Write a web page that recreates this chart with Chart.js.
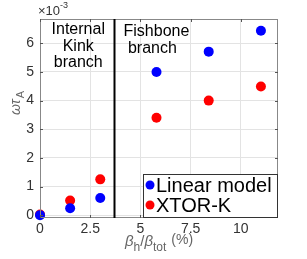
<!DOCTYPE html>
<html>
<head>
<meta charset="utf-8">
<script src="https://cdn.jsdelivr.net/npm/chart.js@4.4.0/dist/chart.umd.min.js"></script>
<style>
  html, body { margin: 0; padding: 0; background: #fff; }
  #wrap { width: 307px; height: 259px; }
</style>
</head>
<body>
<div id="wrap"><canvas id="chart" width="307" height="259"></canvas></div>
<script>
// growth rate (x1e-3) vs beta_h / beta_tot (%)
var betaRatio = [0, 1.5, 3, 5.8, 8.4, 11];
var linearModel = [0, 0.24, 0.6, 5.0, 5.71, 6.44];
var xtorK = [0.02, 0.51, 1.25, 3.4, 4.0, 4.49];
var xTicks = [0, 2.5, 5, 7.5, 10];
var yTicks = [0, 1, 2, 3, 4, 5, 6];
var branchLimit = 3.7;

var FONT = '"Liberation Sans", Arial, sans-serif';

function pts(ys) {
    return betaRatio.map(function (x, i) { return { x: x, y: ys[i] }; });
}

// lignes et textes ajoutés à la main
var extras = {
    id: 'extras',
    afterDraw: function (chart) {
        var ctx = chart.ctx, a = chart.chartArea;
        var xs = chart.scales.x, ys = chart.scales.y;
        ctx.save();

        // cadre
        ctx.strokeStyle = '#888';
        ctx.lineWidth = 1;
        ctx.strokeRect(a.left + 0.5, a.top + 0.5, a.right - a.left - 1, a.bottom - a.top - 1);

        // petites graduations vers l'intérieur
        ctx.strokeStyle = '#555';
        yTicks.forEach(function (v) {
            var py = Math.round(ys.getPixelForValue(v)) + 0.5;
            ctx.beginPath();
            ctx.moveTo(a.left, py); ctx.lineTo(a.left + 3, py);
            ctx.moveTo(a.right, py); ctx.lineTo(a.right - 3, py);
            ctx.stroke();
        });
        xTicks.forEach(function (v) {
            var px = Math.round(xs.getPixelForValue(v)) + 0.5;
            ctx.beginPath();
            ctx.moveTo(px, a.bottom); ctx.lineTo(px, a.bottom - 3);
            ctx.moveTo(px, a.top); ctx.lineTo(px, a.top + 3);
            ctx.stroke();
        });

        // séparation des deux branches
        var bx = Math.round(xs.getPixelForValue(branchLimit)) + 0.5;
        ctx.strokeStyle = '#000';
        ctx.lineWidth = 2;
        ctx.beginPath();
        ctx.moveTo(bx, a.top); ctx.lineTo(bx, a.bottom);
        ctx.stroke();

        ctx.fillStyle = '#000';
        ctx.font = '16px ' + FONT;
        ctx.textAlign = 'center';
        ctx.textBaseline = 'middle';
        var cx = (a.left + bx) / 2;
        ['Internal', 'Kink', 'branch'].forEach(function (t, i) {
            ctx.fillText(t, cx + 1, 30 + i * 16.5);
        });
        ctx.textAlign = 'left';
        ['Fishbone', ' branch'].forEach(function (t, i) {
            ctx.fillText(t, bx + 9, 32 + i * 17);
        });

        // facteur d'échelle
        ctx.fillStyle = '#333';
        ctx.font = '13px ' + FONT;
        ctx.textBaseline = 'alphabetic';
        ctx.fillText('\u00d710', a.left - 2, 15);
        ctx.font = '9px ' + FONT;
        ctx.fillText('-3', a.left + 20, 8);

        // titre axe y
        ctx.fillStyle = '#666';
        ctx.save();
        ctx.translate(20, 115);
        ctx.rotate(-Math.PI / 2);
        ctx.font = 'italic 14px ' + FONT;
        ctx.textAlign = 'left';
        ctx.fillText('\u03c9\u03c4', 0, 0);
        var w = ctx.measureText('\u03c9\u03c4').width;
        ctx.font = '11px ' + FONT;
        ctx.fillText('A', w + 1, 4);
        ctx.restore();

        // titre axe x
        var tx = 125, ty = 246;
        ctx.textAlign = 'left';
        ctx.font = 'italic 15px ' + FONT;
        ctx.fillText('\u03b2', tx, ty);
        tx += ctx.measureText('\u03b2').width;
        ctx.font = '12px ' + FONT;
        ctx.fillText('h', tx, ty + 5);
        tx += ctx.measureText('h').width;
        ctx.font = '15px ' + FONT;
        ctx.fillText('/', tx, ty);
        tx += ctx.measureText('/').width;
        ctx.font = 'italic 15px ' + FONT;
        ctx.fillText('\u03b2', tx, ty);
        tx += ctx.measureText('\u03b2').width;
        ctx.font = '12px ' + FONT;
        ctx.fillText('tot', tx, ty + 5);
        tx += ctx.measureText('tot').width + 5;
        ctx.font = '14px ' + FONT;
        ctx.fillText('(%)', tx, ty - 2);

        // légende
        var lx = 143, ly = 174, lw = a.right - lx, lh = a.bottom - ly;
        ctx.fillStyle = '#fff';
        ctx.fillRect(lx, ly, lw, lh);
        ctx.strokeStyle = '#333';
        ctx.lineWidth = 1;
        ctx.strokeRect(lx + 0.5, ly + 0.5, lw - 1, lh - 1);
        ctx.font = '20px ' + FONT;
        ctx.textBaseline = 'middle';
        chart.data.datasets.forEach(function (ds, i) {
            var yy = ly + 11 + i * 20;
            ctx.fillStyle = ds.backgroundColor;
            ctx.beginPath();
            ctx.arc(lx + 7, yy, 4.5, 0, Math.PI * 2);
            ctx.fill();
            ctx.fillStyle = '#000';
            ctx.fillText(ds.label, lx + 13, yy + 1);
        });
        ctx.restore();
    }
};

new Chart(document.getElementById('chart'), {
    type: 'scatter',
    data: {
        datasets: [
            { label: 'Linear model', data: pts(linearModel), backgroundColor: '#0000ff', borderWidth: 0, pointRadius: 5, clip: false },
            { label: 'XTOR-K', data: pts(xtorK), backgroundColor: '#ff0000', borderWidth: 0, pointRadius: 5, clip: false }
        ]
    },
    options: {
        responsive: false,
        animation: false,
        layout: { padding: { top: 19, right: 29, left: 0, bottom: 0 } },
        plugins: { legend: { display: false }, tooltip: { enabled: false } },
        scales: {
            x: {
                type: 'linear',
                min: 0,
                max: 11.85,
                afterBuildTicks: function (s) { s.ticks = xTicks.map(function (v) { return { value: v }; }); },
                afterFit: function (s) { s.height = 41; },
                grid: { color: '#e3e3e3', drawTicks: false },
                border: { display: false },
                ticks: { padding: 3, color: '#333', font: { family: FONT, size: 14 }, maxRotation: 0 }
            },
            y: {
                type: 'linear',
                min: -0.1,
                max: 6.85,
                afterBuildTicks: function (s) { s.ticks = yTicks.map(function (v) { return { value: v }; }); },
                afterFit: function (s) { s.width = 40; },
                grid: { color: '#e3e3e3', drawTicks: false },
                border: { display: false },
                ticks: { padding: 6, color: '#333', font: { family: FONT, size: 14 } }
            }
        }
    },
    plugins: [extras]
});
</script>
</body>
</html>
